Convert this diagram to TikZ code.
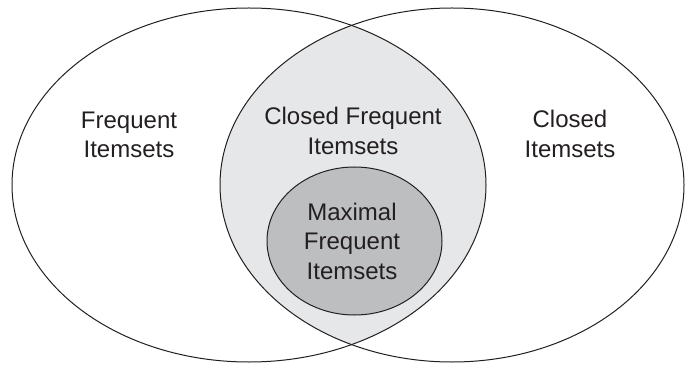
\documentclass[tikz,border=0pt]{standalone}
\usepackage{fontspec}
\setmainfont{Liberation Sans}
\usepackage{xcolor}
\usetikzlibrary{positioning}

\definecolor{ink}{HTML}{231F20}
\definecolor{lensgray}{HTML}{E6E7E8}
\definecolor{maxgray}{HTML}{BDBEC0}

\begin{document}
\begin{tikzpicture}[
      x=1pt, y=-1pt,
      setline/.style={draw=ink, line width=1pt},
      lbl/.style={align=center, text=ink, inner sep=0pt, font=\fontsize{24}{29.5}\selectfont}
    ]
    \useasboundingbox (0,0) rectangle (685,366);
    % the two big sets
    \coordinate (fc) at (249,185);
    \coordinate (cc) at (452,185);
    \coordinate (mc) at (354.5,241);
    % overlap: closed frequent
    \begin{scope}
      \clip (fc) ellipse [x radius=237, y radius=177];
      \fill[lensgray] (cc) ellipse [x radius=232, y radius=177];
    \end{scope}
    % maximal frequent inside the overlap
    \fill[maxgray] (mc) ellipse [x radius=87.5, y radius=74];
    \draw[setline] (fc) ellipse [x radius=237, y radius=177];
    \draw[setline] (cc) ellipse [x radius=232, y radius=177];
    \draw[setline] (mc) ellipse [x radius=87.5, y radius=74];
    % labels
    \node[lbl] (freq)   at (129,135) {Frequent\\Itemsets};
    \node[lbl] (closed) at (570,134) {Closed\\Itemsets};
    \node[lbl] (cfi)    at (353,131) {Closed Frequent\\Itemsets};
    \node[lbl] (mfi)    at (352,241) {Maximal\\Frequent\\Itemsets};
  \end{tikzpicture}
\end{document}
